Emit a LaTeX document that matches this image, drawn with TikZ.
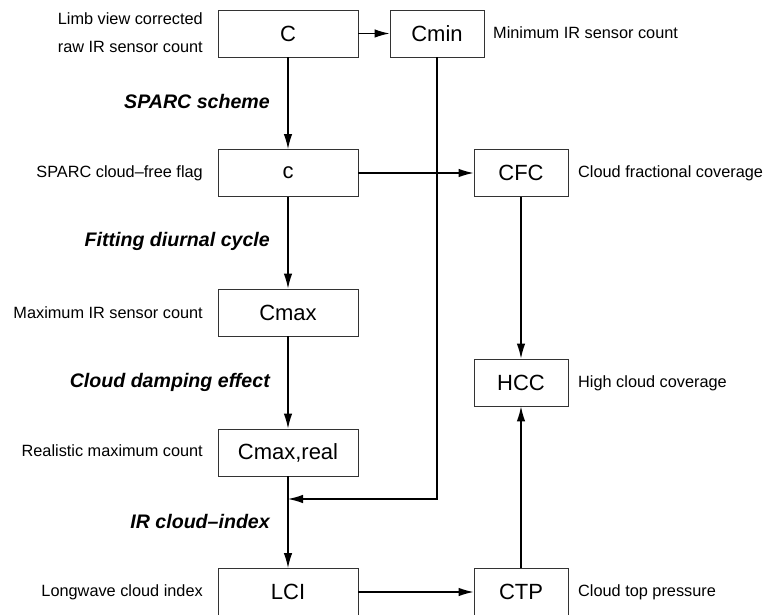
\documentclass[tikz,border=0pt]{standalone}
\usepackage{fontspec}
\setmainfont{Liberation Sans}
\usetikzlibrary{arrows.meta}
\begin{document}
\begin{tikzpicture}[x=1pt,y=-1pt,
  box/.style={draw=black!80,line width=0.9pt,minimum width=140pt,minimum height=47pt,inner sep=0pt,font=\fontsize{22}{26}\selectfont},
  sbox/.style={box,minimum width=94pt},
  lab/.style={inner sep=0pt,font=\fontsize{16.3}{19}\selectfont},
  proc/.style={inner sep=0pt,font=\fontsize{19.6}{23}\selectfont\bfseries\itshape,anchor=east},
  flow/.style={line width=1.2pt,-{Latex[length=15pt,width=8.5pt]}},
  plain/.style={line width=1.2pt}]
\useasboundingbox (0,0) rectangle (764,615);
% boxes
\node[box] (C) at (288,33.5) {C};
\node[sbox] (Cmin) at (437,33.5) {Cmin};
\node[box] (c) at (288,173) {c};
\node[sbox] (CFC) at (521,173) {CFC};
\node[box] (Cmax) at (288,312.5) {Cmax};
\node[sbox] (HCC) at (521,382.5) {HCC};
\node[box] (Cmr) at (288,452.5) {Cmax,real};
\node[box] (LCI) at (288,592) {LCI};
\node[sbox] (CTP) at (521,592) {CTP};
% labels
\node[lab,anchor=east] (l1) at (203,19) {Limb view corrected};
\node[lab,anchor=east] (l2) at (203,47) {raw IR sensor count};
\node[lab,anchor=west] (l3) at (493,33) {Minimum IR sensor count};
\node[lab,anchor=east] (l4) at (203,173) {SPARC cloud–free flag};
\node[lab,anchor=west] (l5) at (578,173) {Cloud fractional coverage};
\node[lab,anchor=east] (l6) at (203,313) {Maximum IR sensor count};
\node[lab,anchor=west] (l7) at (578,383) {High cloud coverage};
\node[lab,anchor=east] (l8) at (203,451) {Realistic maximum count};
\node[lab,anchor=east] (l9) at (203,592) {Longwave cloud index};
\node[lab,anchor=west] (l10) at (578,592) {Cloud top pressure};
% process labels
\node[proc] (p1) at (270,101) {SPARC scheme};
\node[proc] (p2) at (270,241) {Fitting diurnal cycle};
\node[proc] (p3) at (270,382) {Cloud damping effect};
\node[proc] (p4) at (270,521) {IR cloud–index};
% connectors
\coordinate (j) at (288,499);
\draw[flow] (C) -- (Cmin);
\draw[flow] (C) -- (c);
\draw[flow] (c) -- (CFC);
\draw[flow] (c) -- (Cmax);
\draw[flow] (Cmax) -- (Cmr);
\draw[flow] (Cmr) -- (LCI);
\draw[flow] (Cmin.south) |- (j);
\draw[flow] (CFC) -- (HCC);
\draw[flow] (CTP) -- (HCC);
\draw[flow] (LCI) -- (CTP);
\end{tikzpicture}
\end{document}
